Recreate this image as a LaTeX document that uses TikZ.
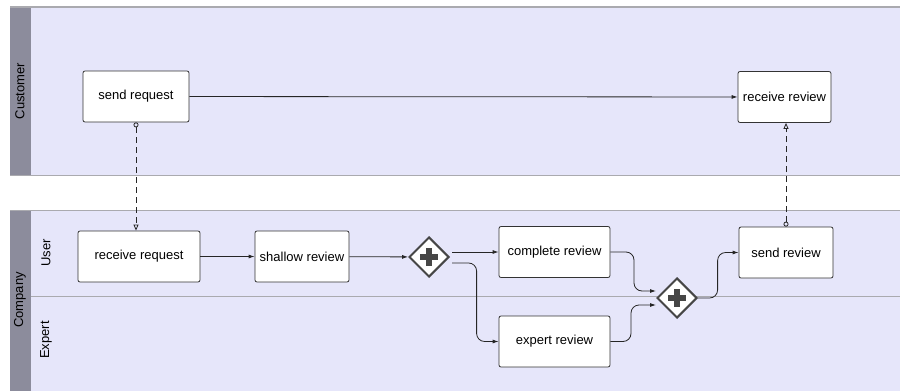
\documentclass[tikz,border=0pt]{standalone}
\usepackage{fontspec}
\setmainfont{Liberation Sans}
\usetikzlibrary{arrows.meta,positioning,shapes.geometric}
\definecolor{lanefill}{RGB}{230,230,250}
\definecolor{headgray}{RGB}{140,140,156}
\definecolor{edgegray}{RGB}{170,170,175}
\definecolor{gatedark}{RGB}{70,70,70}
\tikzset{
  task/.style={draw=black!80, rounded corners=2pt, fill=white, line width=0.8pt,
    minimum height=51pt, inner sep=1pt, font=\fontsize{13}{15}\selectfont},
  gate/.style={diamond, draw=gatedark, fill=white, line width=2pt,
    minimum width=40pt, minimum height=40pt, inner sep=0pt},
  flow/.style={-{Latex[length=6pt,width=4pt]}, line width=0.8pt, black!85},
  msg/.style={{Circle[open,length=5pt,width=5pt]}-{Triangle[open,length=6pt,width=5pt]},
    dashed, dash pattern=on 6pt off 4pt, line width=0.8pt, black!85},
  lanelabel/.style={rotate=90, font=\fontsize{13}{15}\selectfont}
}
\begin{document}
\begin{tikzpicture}[x=1pt,y=-1pt]
  \path[use as bounding box, fill=white] (0,0) rectangle (900,391);

  % Pools and lanes
  \fill[lanefill] (31,7) rectangle (900,175);
  \fill[lanefill] (31,210) rectangle (900,391);
  \fill[headgray] (10,7) rectangle (31,175);
  \fill[headgray] (10,210) rectangle (31,391);
  \draw[edgegray, line width=1.2pt] (10,7) -- (900,7);
  \draw[edgegray, line width=1pt] (10,175) -- (900,175);
  \draw[edgegray, line width=1pt] (10,210) -- (900,210);
  \draw[edgegray, line width=1pt] (31,296) -- (900,296);
  \node[lanelabel] (customer) at (20,91) {Customer};
  \node[lanelabel] (company) at (20,300) {Company};
  \node[lanelabel] (user) at (46,253) {User};
  \node[lanelabel] (expert) at (46,340) {Expert};

  % Tasks
  \node[task, minimum width=106pt] (sendreq) at (136,96.5) {send request};
  \node[task, minimum width=93pt] (recvrev) at (784.5,97) {receive review};
  \node[task, minimum width=122pt] (recvreq) at (139,256.5) {receive request};
  \node[task, minimum width=94pt] (shallow) at (302,256.5) {shallow review};
  \node[task, minimum width=111pt] (complete) at (554.5,252) {complete review};
  \node[task, minimum width=111pt] (expertrev) at (554.5,341.5) {expert review};
  \node[task, minimum width=94pt] (sendrev) at (786,252.5) {send review};

  % Gateways
  \node[gate] (split) at (429,257) {};
  \node[gate] (join) at (677,298) {};
  \foreach \g in {split,join} {
    \fill[gatedark] ([xshift=-9pt,yshift=-3pt]\g.center) rectangle ([xshift=9pt,yshift=3pt]\g.center);
    \fill[gatedark] ([xshift=-3pt,yshift=-9pt]\g.center) rectangle ([xshift=3pt,yshift=9pt]\g.center);
  }

  % Sequence flows
  \draw[flow] (sendreq) -- (recvrev);
  \draw[flow] (recvreq) -- (shallow);
  \draw[flow] (shallow) -- (split);
  \draw[flow] ([xshift=2pt,yshift=5pt]split.east) -- (complete.west);
  \draw[flow, rounded corners=8pt] ([xshift=2pt,yshift=-6pt]split.east) -| ([xshift=-22pt]expertrev.west) -- (expertrev.west);
  \draw[flow, rounded corners=8pt] (complete.east) -| ([xshift=-22pt,yshift=7pt]join.west) -- ([yshift=7pt]join.west);
  \draw[flow, rounded corners=8pt] (expertrev.east) -| ([xshift=-25pt,yshift=-7pt]join.west) -- ([yshift=-7pt]join.west);
  \draw[flow, rounded corners=8pt] (join.east) -| ([xshift=-21pt]sendrev.west) -- (sendrev.west);

  % Message flows
  \draw[msg] (sendreq.south) -- (sendreq.south |- recvreq.north);
  \draw[msg] (sendrev.north) -- (sendrev.north |- recvrev.south);
\end{tikzpicture}
\end{document}
